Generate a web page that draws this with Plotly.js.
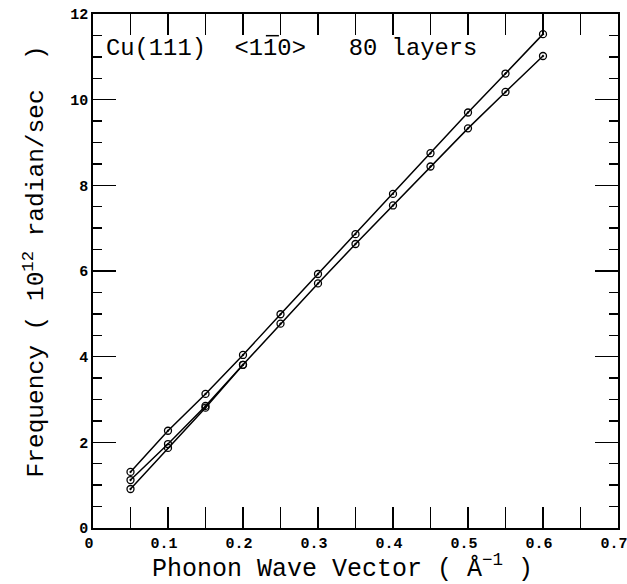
<!DOCTYPE html>
<html>
<head>
<meta charset="utf-8">
<script src="https://cdn.plot.ly/plotly-3.0.1.min.js"></script>
<style>html,body{margin:0;padding:0;background:#fff}#plot{width:627px;height:584px}</style>
</head>
<body>
<div id="plot"></div>
<script>
// Phonon wave vector (1/Å)
const qUpper = [0.05, 0.10, 0.15, 0.20, 0.25, 0.30, 0.35, 0.40, 0.45, 0.50, 0.55, 0.60];
const freqUpper = [1.31, 2.27, 3.13, 4.04, 4.99, 5.93, 6.86, 7.80, 8.75, 9.70, 10.61, 11.53];
const qLower = [0.05, 0.10, 0.15, 0.20, 0.25, 0.30, 0.35, 0.40, 0.45, 0.50, 0.55, 0.60];
const freqLower = [0.91, 1.87, 2.81, 3.81, 4.77, 5.71, 6.63, 7.53, 8.44, 9.33, 10.18, 11.02];
const qMiddle = [0.05, 0.10, 0.15, 0.20];
const freqMiddle = [1.12, 1.96, 2.85, 3.81];

const xTickVals = [0, 0.1, 0.2, 0.3, 0.4, 0.5, 0.6, 0.7];
const xTickText = ['0', '0.1', '0.2', '0.3', '0.4', '0.5', '0.6', '0.7'];
const yTickVals = [0, 2, 4, 6, 8, 10, 12];
const yTickText = ['0', '2', '4', '6', '8', '10', '12'];

const labelText = 'Cu(111)\u00a0 <110>\u00a0 \u00a080 layers';
const xTitle = 'Phonon Wave Vector ( Å<sup>\u22121</sup> )';
const yTitle = 'Frequency ( 10<sup>12</sup> radian/sec\u00a0 )';

const mono = '"Liberation Mono", "Courier New", monospace';
const markerStyle = {symbol: 'circle-open-dot', size: 7, color: '#000', line: {color: '#000', width: 1.3}};

function series(x, y) {
  return {x: x, y: y, type: 'scatter', mode: 'lines+markers',
    line: {color: '#000', width: 1.5}, marker: markerStyle, showlegend: false, hoverinfo: 'skip'};
}

const data = [series(qUpper, freqUpper), series(qMiddle, freqMiddle), series(qLower, freqLower)];

const layout = {
  width: 627, height: 584,
  margin: {l: 93, r: 9, t: 14, b: 56},
  paper_bgcolor: '#fff', plot_bgcolor: '#fff',
  showlegend: false,
  xaxis: {
    range: [0, 0.7], showgrid: false, zeroline: false,
    showline: true, linecolor: '#000', linewidth: 1.8, mirror: 'ticks',
    ticks: 'inside', ticklen: 21, tickwidth: 1.4, tickcolor: '#000',
    tickmode: 'array', tickvals: xTickVals, ticktext: xTickText,
    ticklabeloverflow: 'allow', ticklabelshift: -4,
    tickfont: {family: mono, size: 15, color: '#000', weight: 'bold'},
    minor: {dtick: 0.05, ticks: 'inside', ticklen: 21, tickwidth: 1.4, tickcolor: '#000', showgrid: false}
  },
  yaxis: {
    range: [0, 12], showgrid: false, zeroline: false,
    showline: true, linecolor: '#000', linewidth: 1.8, mirror: 'ticks',
    ticks: 'inside', ticklen: 23, tickwidth: 1.4, tickcolor: '#000',
    tickmode: 'array', tickvals: yTickVals, ticktext: yTickText,
    ticklabeloverflow: 'allow',
    tickfont: {family: mono, size: 15, color: '#000', weight: 'bold'},
    minor: {dtick: 0.5, ticks: 'inside', ticklen: 9, tickwidth: 1.4, tickcolor: '#000', showgrid: false}
  },
  annotations: [
    {xref: 'paper', yref: 'paper', x: 0.0214, y: 0.932, xanchor: 'left', yanchor: 'middle',
     text: labelText, showarrow: false,
     font: {family: mono, size: 23.8, color: '#000'}},
    {xref: 'paper', yref: 'paper', x: 0.475, y: -0.076, xanchor: 'center', yanchor: 'middle',
     text: xTitle, showarrow: false, font: {family: mono, size: 25, color: '#000'}},
    {xref: 'paper', yref: 'paper', x: -0.111, y: 0.518, xanchor: 'center', yanchor: 'middle',
     textangle: -90, text: yTitle, showarrow: false, font: {family: mono, size: 24.5, color: '#000'}}
  ],
  shapes: [
    {type: 'line', xref: 'paper', yref: 'paper', x0: 0.3293, x1: 0.3541, y0: 0.9578, y1: 0.9578,
     line: {color: '#000', width: 1.5}}
  ]
};

Plotly.newPlot('plot', data, layout, {displayModeBar: false, staticPlot: true});
</script>
</body>
</html>
